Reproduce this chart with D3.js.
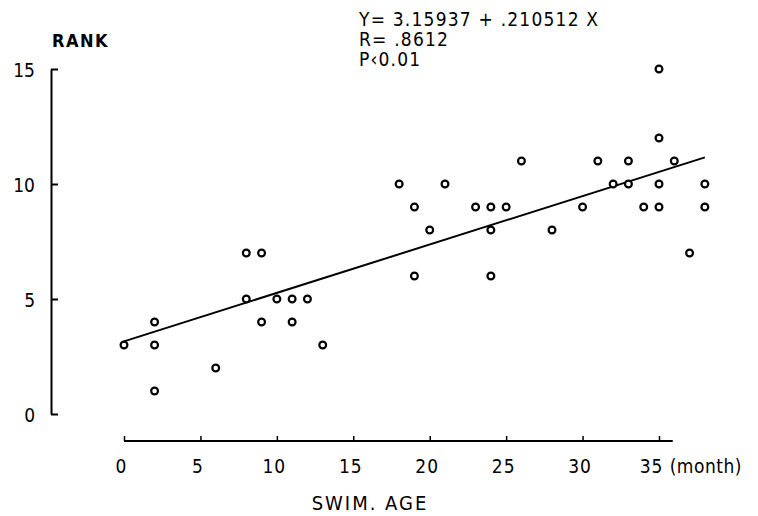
<!DOCTYPE html>
<html>
<head>
<meta charset="utf-8">
<script src="https://cdn.jsdelivr.net/npm/d3@7"></script>
<style>
  body { margin: 0; background: #fff; }
  text { font-family: "DejaVu Sans Condensed", "DejaVu Sans", sans-serif; fill: #000; }
</style>
</head>
<body>
<script>

// swim age (months) and rank, one entry per child
var swimAge = [0, 2, 2, 2, 6, 8, 9, 8, 10, 11, 9, 11, 12, 13,
               18, 21, 19, 20, 23, 24, 25, 24, 19, 24, 28, 26,
               35, 35, 31, 33, 36, 32, 33, 35, 38, 30, 34, 35, 38, 37];
var rank    = [3, 4, 3, 1, 2, 7, 7, 5, 5, 5, 4, 4, 5, 3,
               10, 10, 9, 8, 9, 9, 9, 8, 6, 6, 8, 11,
               15, 12, 11, 11, 11, 10, 10, 10, 10, 9, 9, 9, 9, 7];

var xTicks = [0, 5, 10, 15, 20, 25, 30, 35];
var yTicks = [0, 5, 10, 15];

// regression  Y = a + b X
var intercept = 3.15937, slope = 0.210512;
var fitRange = [0, 38];

var statLines = ["Y= 3.15937 + .210512 X", "R= .8612", "P\u20390.01"];

var width = 758, height = 516;

var svg = d3.select("body").append("svg")
    .attr("width", width)
    .attr("height", height);

// setup scales
var xScale = d3.scaleLinear().domain([0, 35]).range([124, 659]);
var yScale = d3.scaleLinear().domain([0, 15]).range([414, 69]);

var data = swimAge.map(function(d, i) { return {age: d, rank: rank[i]}; });

// y axis, ticks pointing inward
var yAxis = svg.append("g")
    .attr("transform", "translate(51,0)")
    .call(d3.axisLeft(yScale).tickValues(yTicks).tickSizeInner(-7).tickSizeOuter(0).tickPadding(16));
yAxis.selectAll("path, line").attr("stroke", "#000").attr("stroke-width", 2);
yAxis.selectAll("text").style("font-size", "19px").attr("dy", "0.4em");

// x axis, ticks pointing up
var xAxis = svg.append("g")
    .attr("transform", "translate(0,441)")
    .call(d3.axisBottom(xScale).tickValues(xTicks).tickSizeInner(-5).tickSizeOuter(0).tickPadding(19));
xAxis.select(".domain").remove();
xAxis.append("line")
    .attr("x1", xScale(0)).attr("x2", xScale(35.9))
    .attr("stroke", "#000").attr("stroke-width", 2);
xAxis.selectAll(".tick line").attr("stroke", "#000").attr("stroke-width", 1.5);
xAxis.selectAll("text")
    .style("font-size", "19px")
    .style("letter-spacing", "1px")
    .attr("dx", function(d) { return d === 35 ? -8 : -3; });

svg.append("text")
    .attr("x", xScale(35.7))
    .attr("y", 473)
    .style("font-size", "19px")
    .style("letter-spacing", "0.5px")
    .text("(month)");

// axis titles
svg.append("text")
    .attr("x", 52)
    .attr("y", 47)
    .style("font-size", "18px")
    .style("font-weight", "bold")
    .style("letter-spacing", "1.5px")
    .text("RANK");

svg.append("text")
    .attr("x", 370)
    .attr("y", 510)
    .attr("text-anchor", "middle")
    .style("font-size", "20px")
    .style("letter-spacing", "2px")
    .text("SWIM. AGE");

// regression stats
svg.append("g").selectAll("text")
    .data(statLines)
  .enter().append("text")
    .attr("x", 359)
    .attr("y", function(d, i) { return 26 + i * 20; })
    .style("font-size", "19px")
    .style("letter-spacing", "1.2px")
    .attr("xml:space", "preserve")
    .text(function(d) { return d; });

// fitted line
svg.append("line")
    .attr("x1", xScale(fitRange[0]))
    .attr("y1", yScale(intercept + slope * fitRange[0]))
    .attr("x2", xScale(fitRange[1]))
    .attr("y2", yScale(intercept + slope * fitRange[1]))
    .attr("stroke", "#000")
    .attr("stroke-width", 2);

// draw dots
svg.selectAll(".dot")
    .data(data)
  .enter().append("circle")
    .attr("class", "dot")
    .attr("r", 3.4)
    .attr("cx", function(d) { return xScale(d.age); })
    .attr("cy", function(d) { return yScale(d.rank); })
    .attr("fill", "#fff")
    .attr("stroke", "#000")
    .attr("stroke-width", 2.2);

</script>
</body>
</html>
